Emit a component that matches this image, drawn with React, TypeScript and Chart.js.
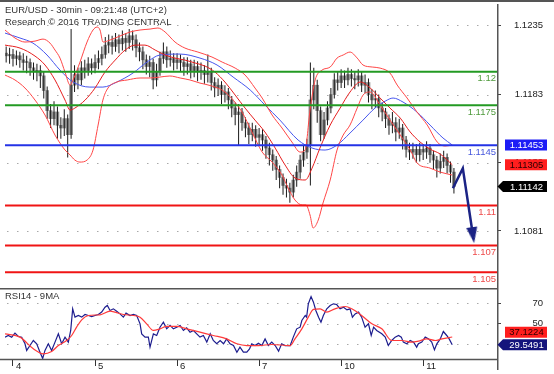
import React, { useEffect, useRef } from 'react';
import { Chart, registerables } from 'chart.js';
Chart.register(...registerables);

const FONT = '"Liberation Sans", Arial, Helvetica, sans-serif';

const titleLine1 = 'EUR/USD - 30min - 09:21:48 (UTC+2)';
const titleLine2 = 'Research © 2016 TRADING CENTRAL';
const rsiTitle = 'RSI14 - 9MA';

// hours from start of day "4" (weekend skipped)
const X_MIN = -2.34;
const X_MAX = 141.6;
const firstHour = -2;

const dayTickHours = [0, 24, 48, 72, 96, 120];
const dayLabels = ['4', '5', '6', '7', '10', '11'];

const priceTicks = [1.1081, 1.1132, 1.1183, 1.1235];
const PRICE_MIN = 1.10383;
const PRICE_MAX = 1.12515;
const rsiTicks = [30, 50, 70];
const RSI_MIN = 15.66;
const RSI_MAX = 83.95;

// hourly candles, t = -2 .. 129
const opens = [
  1.1214, 1.1212, 1.1213, 1.1210, 1.1212, 1.1209, 1.1207, 1.1207, 1.1203, 1.1200, 1.1201, 1.1197,
  1.1186, 1.1171, 1.1165, 1.1170, 1.1160, 1.1158, 1.1165, 1.1153, 1.1190, 1.1198, 1.1194, 1.1203,
  1.1201, 1.1206, 1.1203, 1.1207, 1.1210, 1.1213, 1.1220, 1.1222, 1.1219, 1.1224, 1.1221, 1.1225,
  1.1222, 1.1227, 1.1224, 1.1218, 1.1215, 1.1209, 1.1204, 1.1207, 1.1194, 1.1200, 1.1210, 1.1215,
  1.1209, 1.1210, 1.1207, 1.1209, 1.1207, 1.1204, 1.1206, 1.1201, 1.1204, 1.1200, 1.1201, 1.1198,
  1.1200, 1.1192, 1.1188, 1.1190, 1.1183, 1.1185, 1.1179, 1.1173, 1.1168, 1.1170, 1.1162, 1.1158,
  1.1153, 1.1157, 1.1151, 1.1153, 1.1149, 1.1143, 1.1138, 1.1134, 1.1127, 1.1121, 1.1115, 1.1113,
  1.1110, 1.1119, 1.1125, 1.1134, 1.1140, 1.1145, 1.1179, 1.1190, 1.1171, 1.1153, 1.1164, 1.1173,
  1.1183, 1.1194, 1.1192, 1.1197, 1.1194, 1.1198, 1.1195, 1.1194, 1.1197, 1.1190, 1.1192, 1.1183,
  1.1179, 1.1180, 1.1173, 1.1170, 1.1165, 1.1160, 1.1162, 1.1155, 1.1158, 1.1149, 1.1142, 1.1140,
  1.1142, 1.1138, 1.1142, 1.1140, 1.1143, 1.1138, 1.1134, 1.1128, 1.1133, 1.1136, 1.1130, 1.1125,
];
const highs = [
  1.1219, 1.1218, 1.1217, 1.1216, 1.1215, 1.1214, 1.1212, 1.1210, 1.1207, 1.1206, 1.1205, 1.1200,
  1.1189, 1.1176, 1.1178, 1.1174, 1.1166, 1.1172, 1.1168, 1.1232, 1.1205, 1.1203, 1.1208, 1.1209,
  1.1211, 1.1210, 1.1213, 1.1216, 1.1219, 1.1226, 1.1228, 1.1227, 1.1229, 1.1228, 1.1231, 1.1229,
  1.1232, 1.1231, 1.1228, 1.1222, 1.1219, 1.1213, 1.1212, 1.1210, 1.1206, 1.1215, 1.1222, 1.1219,
  1.1216, 1.1214, 1.1214, 1.1213, 1.1211, 1.1211, 1.1209, 1.1209, 1.1208, 1.1207, 1.1205, 1.1213,
  1.1203, 1.1196, 1.1195, 1.1193, 1.1190, 1.1188, 1.1182, 1.1177, 1.1176, 1.1173, 1.1166, 1.1162,
  1.1162, 1.1160, 1.1158, 1.1157, 1.1152, 1.1147, 1.1142, 1.1137, 1.1130, 1.1124, 1.1120, 1.1117,
  1.1123, 1.1130, 1.1138, 1.1145, 1.1150, 1.1207, 1.1203, 1.1194, 1.1174, 1.1170, 1.1178, 1.1188,
  1.1199, 1.1200, 1.1202, 1.1201, 1.1203, 1.1202, 1.1200, 1.1202, 1.1200, 1.1198, 1.1195, 1.1187,
  1.1186, 1.1183, 1.1177, 1.1173, 1.1168, 1.1170, 1.1166, 1.1165, 1.1161, 1.1152, 1.1147, 1.1147,
  1.1146, 1.1147, 1.1146, 1.1148, 1.1146, 1.1141, 1.1137, 1.1139, 1.1141, 1.1139, 1.1133, 1.1128,
];
const lows = [
  1.1207, 1.1206, 1.1204, 1.1205, 1.1203, 1.1201, 1.1199, 1.1197, 1.1194, 1.1193, 1.1188, 1.1180,
  1.1165, 1.1158, 1.1160, 1.1150, 1.1150, 1.1152, 1.1136, 1.1150, 1.1185, 1.1187, 1.1190, 1.1195,
  1.1197, 1.1198, 1.1199, 1.1202, 1.1205, 1.1210, 1.1214, 1.1213, 1.1215, 1.1214, 1.1216, 1.1215,
  1.1217, 1.1216, 1.1211, 1.1208, 1.1202, 1.1198, 1.1196, 1.1187, 1.1189, 1.1197, 1.1206, 1.1203,
  1.1204, 1.1201, 1.1202, 1.1200, 1.1197, 1.1198, 1.1195, 1.1196, 1.1193, 1.1194, 1.1191, 1.1192,
  1.1186, 1.1181, 1.1182, 1.1176, 1.1177, 1.1172, 1.1166, 1.1160, 1.1145, 1.1156, 1.1151, 1.1146,
  1.1148, 1.1144, 1.1145, 1.1141, 1.1135, 1.1130, 1.1126, 1.1119, 1.1113, 1.1108, 1.1106, 1.1102,
  1.1106, 1.1114, 1.1120, 1.1129, 1.1135, 1.1115, 1.1172, 1.1162, 1.1148, 1.1150, 1.1160, 1.1169,
  1.1180, 1.1186, 1.1188, 1.1188, 1.1190, 1.1189, 1.1187, 1.1189, 1.1185, 1.1184, 1.1177, 1.1172,
  1.1173, 1.1166, 1.1163, 1.1158, 1.1153, 1.1154, 1.1148, 1.1150, 1.1142, 1.1136, 1.1134, 1.1135,
  1.1132, 1.1133, 1.1134, 1.1135, 1.1132, 1.1127, 1.1121, 1.1124, 1.1128, 1.1124, 1.1117, 1.1109,
];
const closes = [
  1.1212, 1.1213, 1.1210, 1.1212, 1.1209, 1.1207, 1.1207, 1.1203, 1.1200, 1.1201, 1.1197, 1.1186,
  1.1171, 1.1165, 1.1170, 1.1160, 1.1158, 1.1165, 1.1153, 1.1190, 1.1198, 1.1194, 1.1203, 1.1201,
  1.1206, 1.1203, 1.1207, 1.1210, 1.1213, 1.1220, 1.1222, 1.1219, 1.1224, 1.1221, 1.1225, 1.1222,
  1.1227, 1.1224, 1.1218, 1.1215, 1.1209, 1.1204, 1.1207, 1.1194, 1.1200, 1.1210, 1.1215, 1.1209,
  1.1210, 1.1207, 1.1209, 1.1207, 1.1204, 1.1206, 1.1201, 1.1204, 1.1200, 1.1201, 1.1198, 1.1200,
  1.1192, 1.1188, 1.1190, 1.1183, 1.1185, 1.1179, 1.1173, 1.1168, 1.1170, 1.1162, 1.1158, 1.1153,
  1.1157, 1.1151, 1.1153, 1.1149, 1.1143, 1.1138, 1.1134, 1.1127, 1.1121, 1.1115, 1.1113, 1.1110,
  1.1119, 1.1125, 1.1134, 1.1140, 1.1145, 1.1179, 1.1190, 1.1171, 1.1153, 1.1164, 1.1173, 1.1183,
  1.1194, 1.1192, 1.1197, 1.1194, 1.1198, 1.1195, 1.1194, 1.1197, 1.1190, 1.1192, 1.1183, 1.1179,
  1.1180, 1.1173, 1.1170, 1.1165, 1.1160, 1.1162, 1.1155, 1.1158, 1.1149, 1.1142, 1.1140, 1.1142,
  1.1138, 1.1142, 1.1140, 1.1143, 1.1138, 1.1134, 1.1128, 1.1133, 1.1136, 1.1130, 1.1125, 1.11142,
];

// Bollinger bands and moving average: [hour, price]
const upperBand = [
  [-2.34, 1.12313], [0.59, 1.12253], [3.51, 1.12223], [6.44, 1.1223], [8.78, 1.12245], [10.83, 1.12215],
  [12.29, 1.12163], [13.75, 1.12103], [15.22, 1.11998], [16.7, 1.11901], [17.56, 1.11939], [19.6, 1.12073],
  [21.66, 1.12223], [23.41, 1.12313], [24.58, 1.12335], [25.46, 1.12313], [26.34, 1.12223], [28.4, 1.12238],
  [31.3, 1.12268], [34.24, 1.12298], [37.17, 1.12313], [40.1, 1.1232], [42.4, 1.12328], [44.5, 1.12298],
  [47.4, 1.12223], [50.3, 1.12178], [54.1, 1.12148], [58.2, 1.12111], [61.2, 1.12073], [65.0, 1.12028],
  [67.9, 1.11976], [70.8, 1.11879], [72.9, 1.11804], [75.8, 1.11677], [78.7, 1.1158], [81.6, 1.11475],
  [84.0, 1.114], [85.45, 1.11415], [86.9, 1.11714], [88.4, 1.11939], [90.4, 1.12013], [92.8, 1.12036],
  [94.8, 1.12103], [96.6, 1.12126], [98.6, 1.12148], [100.7, 1.12103], [102.4, 1.12051], [105.1, 1.12036],
  [107.4, 1.12028], [110.3, 1.11991], [112.4, 1.11901], [115.3, 1.11804], [118.2, 1.11699], [121.2, 1.11602],
  [124.1, 1.11475], [126.4, 1.11445], [128.5, 1.11452],
];
const middleBand = [
  [-2.34, 1.122], [2.05, 1.12178], [6.44, 1.12118], [9.37, 1.12051], [12.29, 1.11939], [15.22, 1.11789],
  [16.7, 1.11714], [18.1, 1.11729], [21.1, 1.11789], [24.0, 1.11879], [26.9, 1.11998], [29.9, 1.12088],
  [32.8, 1.12163], [35.7, 1.122], [38.6, 1.122], [41.6, 1.12163], [44.5, 1.12126], [47.4, 1.12103],
  [50.3, 1.12088], [53.3, 1.12066], [56.2, 1.12043], [59.1, 1.11998], [62.0, 1.11924], [65.0, 1.11826],
  [67.9, 1.11729], [70.8, 1.11639], [73.7, 1.1155], [76.7, 1.1143], [79.6, 1.11303], [82.5, 1.11206],
  [85.5, 1.11191], [87.5, 1.1128], [89.8, 1.1143], [92.8, 1.11602], [95.7, 1.11729], [98.6, 1.11849],
  [101.6, 1.11924], [104.5, 1.11879], [107.4, 1.11804], [110.3, 1.11729], [113.3, 1.11654], [116.2, 1.1155],
  [119.1, 1.11475], [122.0, 1.11422], [125.0, 1.11385], [128.5, 1.11305],
];
const lowerBand = [
  [-2.34, 1.11976], [0.59, 1.11939], [3.51, 1.11879], [6.44, 1.11789], [9.37, 1.11677], [12.29, 1.11527],
  [13.75, 1.11467], [15.22, 1.11415], [16.7, 1.11378], [18.1, 1.1134], [19.6, 1.11325], [21.66, 1.1134],
  [23.41, 1.11415], [24.9, 1.11602], [26.3, 1.11789], [27.8, 1.11879], [30.4, 1.11924], [33.4, 1.11939],
  [37.17, 1.11954], [40.1, 1.11954], [43.0, 1.11961], [45.9, 1.11969], [48.9, 1.11954], [51.8, 1.11939],
  [54.7, 1.11916], [58.2, 1.11894], [62.0, 1.11849], [67.0, 1.11699], [69.9, 1.1155], [72.9, 1.114],
  [75.8, 1.11325], [78.7, 1.11228], [80.5, 1.11131], [82.5, 1.11041], [84.6, 1.11004], [85.7, 1.11004],
  [86.9, 1.10929], [87.8, 1.10832], [89.3, 1.10891], [90.7, 1.11019], [92.8, 1.11191], [94.8, 1.11415],
  [96.6, 1.11527], [98.6, 1.11602], [100.7, 1.11729], [102.4, 1.11826], [104.5, 1.11849], [107.4, 1.11752],
  [110.3, 1.11639], [113.3, 1.11527], [116.2, 1.11415], [118.2, 1.11318], [122.0, 1.1128], [125.0, 1.1125],
  [128.5, 1.11228],
];
const blueAverage = [
  [-2.34, 1.1229], [2.05, 1.12253], [5.85, 1.12215], [9.95, 1.12126], [13.75, 1.12013], [17.56, 1.11924],
  [22.5, 1.11886], [26.3, 1.11886], [30.4, 1.11924], [35.1, 1.11991], [39.2, 1.12073], [43.0, 1.12126],
  [48.9, 1.12133], [54.7, 1.12103], [59.7, 1.12051], [64.4, 1.11961], [69.4, 1.11864], [73.7, 1.11752],
  [78.1, 1.11639], [83.4, 1.1149], [87.5, 1.1143], [91.3, 1.11415], [94.8, 1.11452], [98.6, 1.11542],
  [102.4, 1.11639], [105.9, 1.11729], [108.9, 1.11781], [111.2, 1.11804], [114.1, 1.11774], [118.2, 1.11699],
  [122.0, 1.11602], [125.8, 1.11505], [128.5, 1.11453],
];
const forecastArrow = [[128.7, 1.11129], [131.6, 1.11278], [134.56, 1.10778]];

const levelValues = [1.12, 1.1175, 1.1145, 1.11, 1.107, 1.105];
const levelLabels = ['1.12', '1.1175', '1.1145', '1.11', '1.107', '1.105'];
const levelColors = ['#239a23', '#239a23', '#2433e6', '#f01414', '#f01414', '#f01414'];
const levelTextColors = ['#4f9a3c', '#4f9a3c', '#4657dc', '#ee4a4a', '#ee4a4a', '#ee4a4a'];

// RSI(14) and its 9-period average: [hour, value]
const rsiLine = [
  [-2.34, 36.9], [-1.37, 38.6], [-0.39, 36.9], [0.58, 40.9], [1.56, 37.6], [2.54, 36.9], [3.51, 30.5], [4.0, 24.0],
  [4.97, 28.8], [5.95, 33.7], [6.93, 30.5], [7.9, 22.3], [8.68, 16.2], [9.36, 24.0], [10.34, 30.5], [11.3, 24.0],
  [12.29, 32.1], [13.27, 40.2], [14.24, 30.5], [15.22, 36.9], [16.19, 32.1], [16.88, 43.5], [17.46, 64.6], [18.14, 56.5],
  [19.12, 58.1], [20.1, 56.5], [21.07, 59.1], [22.05, 58.1], [23.02, 57.1], [24.0, 58.1], [24.97, 59.1], [25.95, 61.4],
  [26.92, 66.2], [27.6, 67.9], [28.4, 63.0], [29.36, 64.6], [30.34, 62.3], [31.3, 59.7], [32.29, 56.5], [33.07, 60.4],
  [34.24, 58.1], [35.2, 59.1], [36.19, 58.1], [37.17, 50.0], [37.65, 40.2], [38.63, 37.0], [39.6, 37.0], [40.09, 27.2],
  [41.07, 40.2], [42.04, 38.6], [43.0, 46.7], [44.0, 51.6], [44.97, 45.1], [45.95, 48.4], [46.92, 45.1], [47.9, 46.7],
  [48.9, 48.4], [49.85, 43.5], [50.8, 46.1], [51.8, 41.8], [52.8, 43.5], [53.75, 40.2], [54.7, 37.0], [55.7, 38.6],
  [56.7, 32.1], [57.7, 40.2], [58.6, 33.7], [59.6, 30.5], [60.6, 33.7], [61.6, 30.5], [62.5, 35.3], [63.5, 30.5],
  [64.5, 28.8], [65.5, 22.3], [66.4, 27.2], [67.4, 22.3], [68.4, 22.3], [69.2, 25.6], [69.85, 30.5], [70.8, 28.8],
  [71.8, 31.1], [72.8, 28.8], [73.75, 35.3], [74.7, 28.8], [75.7, 32.1], [76.7, 28.8], [77.7, 23.3], [78.6, 30.5],
  [79.6, 28.8], [81.1, 28.8], [82.0, 37.0], [83.0, 45.1], [84.0, 46.7], [84.5, 53.2], [85.5, 58.1], [85.9, 56.5],
  [86.4, 69.5], [87.2, 76.6], [87.9, 71.1], [88.6, 63.0], [89.4, 56.5], [90.1, 51.6], [90.8, 58.1], [91.8, 64.6],
  [92.8, 67.9], [93.75, 69.5], [94.7, 68.8], [95.7, 64.6], [96.7, 66.2], [97.7, 63.6], [98.6, 64.6], [99.3, 56.5],
  [100.1, 59.7], [101.1, 61.4], [102.0, 56.5], [103.0, 46.7], [104.0, 50.0], [104.8, 38.6], [105.5, 46.7], [106.4, 43.5],
  [107.9, 40.2], [108.9, 37.0], [109.8, 28.8], [110.8, 33.7], [111.8, 37.0], [112.8, 38.6], [113.6, 37.0], [114.2, 32.1],
  [115.2, 30.5], [116.2, 33.7], [117.2, 32.1], [118.1, 27.2], [118.6, 30.5], [119.6, 32.1], [120.6, 37.0], [121.6, 35.3],
  [122.5, 32.1], [123.3, 24.6], [124.0, 30.5], [125.0, 35.3], [125.9, 42.5], [126.9, 38.6], [127.6, 35.3], [128.5, 29.5491],
];
const rsiAverage = [
  [-2.34, 40.2], [2.05, 37.0], [5.95, 25.6], [8.88, 20.7], [11.3, 23.0], [13.27, 28.8], [15.7, 33.7], [17.17, 38.6],
  [18.6, 46.7], [20.1, 53.9], [22.05, 58.1], [25.46, 58.8], [28.4, 62.3], [29.85, 61.4], [32.3, 59.1], [35.2, 58.1],
  [37.17, 56.5], [39.1, 50.0], [41.07, 43.5], [43.0, 45.1], [44.97, 47.4], [47.9, 47.4], [50.8, 45.1], [54.7, 41.8],
  [58.6, 38.6], [62.5, 35.3], [65.5, 30.5], [68.4, 28.8], [71.8, 28.8], [75.7, 29.8], [81.1, 28.8], [82.5, 35.3],
  [84.5, 45.1], [86.4, 56.5], [87.9, 64.0], [89.85, 64.6], [91.8, 61.4], [94.2, 64.6], [97.2, 66.9], [99.1, 64.6],
  [102.0, 58.1], [105.0, 50.0], [107.9, 45.1], [110.8, 33.7], [113.75, 33.7], [116.7, 32.1], [118.6, 33.1], [121.1, 35.3],
  [123.5, 33.7], [125.5, 35.3], [128.5, 37.1224],
];

const last = (arr: number[][]) => arr[arr.length - 1][1];

function drawBox(ctx: CanvasRenderingContext2D, cy: number, text: string, bg: string, fg: string, pointer: boolean) {
  const left = pointer ? 503 : 505;
  const right = 547;
  const h = 11;
  ctx.save();
  ctx.fillStyle = bg;
  ctx.beginPath();
  if (pointer) {
    ctx.moveTo(497.5, cy);
    ctx.lineTo(left, cy - h / 2);
  } else {
    ctx.moveTo(left, cy - h / 2);
  }
  ctx.lineTo(right, cy - h / 2);
  ctx.lineTo(right, cy + h / 2);
  ctx.lineTo(left, cy + h / 2);
  ctx.closePath();
  ctx.fill();
  ctx.fillStyle = fg;
  ctx.font = `9.5px ${FONT}`;
  ctx.textAlign = 'center';
  ctx.textBaseline = 'middle';
  ctx.fillText(text, 526.5, cy + 0.5);
  ctx.restore();
}

function drawBoxes(ctx: CanvasRenderingContext2D, boxes: any[]) {
  const sorted = [...boxes].sort((a, b) => b.y - a.y);
  let prev = Infinity;
  for (const b of sorted) {
    b.y = Math.min(b.y, prev - 12.5);
    prev = b.y;
  }
  for (const b of boxes) drawBox(ctx, b.y, b.text, b.bg, b.fg, b.pointer);
}

function drawDottedGrid(chart: any, scaleId: string, values: number[]) {
  const { ctx, chartArea } = chart;
  const s = chart.scales[scaleId];
  ctx.save();
  ctx.strokeStyle = '#a9a9a9';
  ctx.lineWidth = 1;
  ctx.setLineDash([1.5, 8.5]);
  for (const v of values) {
    const y = Math.round(s.getPixelForValue(v)) + 0.5;
    ctx.beginPath();
    ctx.moveTo(chartArea.left + 2, y);
    ctx.lineTo(chartArea.right, y);
    ctx.stroke();
  }
  ctx.restore();
}

function line(label: string, pts: number[][], color: string, width: number, order: number, extra: any = {}) {
  return {
    type: 'line',
    label,
    data: pts.map(([x, y]) => ({ x, y })),
    borderColor: color,
    borderWidth: width,
    pointRadius: 0,
    fill: false,
    cubicInterpolationMode: 'monotone',
    order,
    ...extra,
  };
}

const fixRightAxis = (s: any) => {
  s.width = 46;
  s.paddingTop = 0;
  s.paddingBottom = 0;
};

function mainConfig(head: HTMLCanvasElement): any {
  const mainDeco = {
    id: 'mainDeco',
    beforeDatasetsDraw(chart: any) {
      drawDottedGrid(chart, 'y', priceTicks);
    },
    afterDraw(chart: any) {
      const { ctx, chartArea } = chart;
      const ys = chart.scales.y;
      ctx.save();
      ctx.strokeStyle = '#555';
      ctx.lineWidth = 2;
      ctx.beginPath();
      ctx.moveTo(0, 1);
      ctx.lineTo(554, 1);
      ctx.stroke();
      ctx.lineWidth = 1.5;
      ctx.beginPath();
      ctx.moveTo(chartArea.right + 0.75, 4);
      ctx.lineTo(chartArea.right + 0.75, 288);
      ctx.stroke();
      ctx.fillStyle = '#333';
      ctx.font = `9.5px ${FONT}`;
      ctx.textAlign = 'left';
      ctx.textBaseline = 'middle';
      ctx.fillText(titleLine1, 5, 10.5);
      ctx.fillText(titleLine2, 5, 22);
      ctx.textAlign = 'right';
      levelValues.forEach((v, i) => {
        ctx.fillStyle = levelTextColors[i];
        ctx.fillText(levelLabels[i], chartArea.right - 1, ys.getPixelForValue(v) + 7);
      });
      ctx.restore();
      drawBoxes(ctx, [
        { y: ys.getPixelForValue(last(blueAverage)), text: last(blueAverage).toFixed(5), bg: '#1c1cf6', fg: '#ffffff', pointer: false },
        { y: ys.getPixelForValue(last(middleBand)), text: last(middleBand).toFixed(5), bg: '#ff1e1e', fg: '#2a0000', pointer: false },
        { y: ys.getPixelForValue(closes[closes.length - 1]), text: closes[closes.length - 1].toFixed(5), bg: '#000000', fg: '#ffffff', pointer: true },
      ]);
    },
  };

  const arrowLast = forecastArrow.length - 1;
  const datasets: any[] = [
    line('forecast', forecastArrow, '#1b2385', 2.5, 0, {
      cubicInterpolationMode: 'default',
      tension: 0,
      pointRadius: (c: any) => (c.dataIndex === arrowLast ? 6 : 0),
      pointStyle: head,
      pointRotation: -8.6,
    }),
    ...levelValues.map((v, i) =>
      line(levelLabels[i], [[X_MIN, v], [X_MAX, v]], levelColors[i], 2, 1, { cubicInterpolationMode: 'default', tension: 0 })
    ),
    line('upper', upperBand, '#ff4646', 1, 2),
    line('middle', middleBand, '#e61e1e', 1, 2),
    line('lower', lowerBand, '#ff4646', 1, 2),
    line('average', blueAverage, '#4656ee', 1, 2),
    {
      type: 'bar',
      label: 'range',
      data: highs.map((h, i) => ({ x: firstHour + i, y: [lows[i], h] })),
      backgroundColor: '#1a1a1a',
      barThickness: 1,
      inflateAmount: 0,
      grouped: false,
      minBarLength: 1,
      order: 3,
    },
    {
      type: 'bar',
      label: 'body',
      data: opens.map((o, i) => ({ x: firstHour + i, y: [Math.min(o, closes[i]), Math.max(o, closes[i])] })),
      backgroundColor: '#8c8c8c',
      barThickness: 3,
      grouped: false,
      minBarLength: 1,
      order: 4,
    },
  ];

  return {
    type: 'line',
    data: { datasets },
    options: {
      responsive: false,
      maintainAspectRatio: false,
      animation: false,
      devicePixelRatio: 1,
      events: [],
      layout: { autoPadding: false, padding: { left: 5, right: 11, top: 3, bottom: 0 } },
      plugins: { legend: { display: false }, tooltip: { enabled: false }, title: { display: false } },
      scales: {
        x: { type: 'linear', display: false, min: X_MIN, max: X_MAX, offset: false },
        y: {
          type: 'linear',
          position: 'right',
          min: PRICE_MIN,
          max: PRICE_MAX,
          bounds: 'data',
          afterBuildTicks: (s: any) => {
            s.ticks = priceTicks.map((v) => ({ value: v }));
          },
          afterFit: fixRightAxis,
          grid: { drawOnChartArea: false, drawTicks: true, tickLength: 4, tickColor: '#444', tickWidth: 1 },
          border: { display: false },
          ticks: {
            crossAlign: 'far',
            padding: 13,
            color: '#222',
            font: { family: FONT, size: 9.5 },
            callback: (v: any) => Number(v).toFixed(4),
          },
        },
      },
    },
    plugins: [mainDeco],
  };
}

function rsiConfig(): any {
  const rsiDeco = {
    id: 'rsiDeco',
    beforeDatasetsDraw(chart: any) {
      drawDottedGrid(chart, 'y', rsiTicks);
    },
    afterDraw(chart: any) {
      const { ctx, chartArea } = chart;
      const ys = chart.scales.y;
      ctx.save();
      ctx.strokeStyle = '#555';
      ctx.lineWidth = 1.5;
      ctx.beginPath();
      ctx.moveTo(0, 0.75);
      ctx.lineTo(chartArea.right + 1, 0.75);
      ctx.moveTo(0, chartArea.bottom + 0.5);
      ctx.lineTo(chartArea.right + 1, chartArea.bottom + 0.5);
      ctx.moveTo(chartArea.right + 0.75, 0);
      ctx.lineTo(chartArea.right + 0.75, 82);
      ctx.stroke();
      ctx.fillStyle = '#333';
      ctx.font = `9.5px ${FONT}`;
      ctx.textAlign = 'left';
      ctx.textBaseline = 'middle';
      ctx.fillText(rsiTitle, 5, 8.5);
      ctx.restore();
      drawBoxes(ctx, [
        { y: ys.getPixelForValue(last(rsiAverage)), text: last(rsiAverage).toFixed(4), bg: '#ff1e1e', fg: '#2a0000', pointer: false },
        { y: ys.getPixelForValue(last(rsiLine)), text: last(rsiLine).toFixed(4), bg: '#14147c', fg: '#ffffff', pointer: true },
      ]);
    },
  };

  return {
    type: 'line',
    data: {
      datasets: [
        line('RSI 9MA', rsiAverage, '#ff3a3a', 1.2, 0),
        line('RSI14', rsiLine, '#1c1c8e', 1.2, 1, { cubicInterpolationMode: 'default', tension: 0 }),
      ],
    },
    options: {
      responsive: false,
      maintainAspectRatio: false,
      animation: false,
      devicePixelRatio: 1,
      events: [],
      layout: { autoPadding: false, padding: { left: 5, right: 11, top: 1, bottom: 0 } },
      plugins: { legend: { display: false }, tooltip: { enabled: false }, title: { display: false } },
      scales: {
        x: {
          type: 'linear',
          min: X_MIN,
          max: X_MAX,
          offset: false,
          afterBuildTicks: (s: any) => {
            s.ticks = dayTickHours.map((v) => ({ value: v }));
          },
          afterFit: (s: any) => {
            s.height = 15;
            s.paddingLeft = 0;
            s.paddingRight = 0;
          },
          grid: { drawOnChartArea: false, drawTicks: true, tickLength: 7, tickColor: '#333', tickWidth: 1 },
          border: { display: false },
          ticks: {
            autoSkip: false,
            maxRotation: 0,
            minRotation: 0,
            align: 'start',
            labelOffset: 3,
            padding: -5,
            color: '#222',
            font: { family: FONT, size: 9.5 },
            callback: (_v: any, i: number) => dayLabels[i],
          },
        },
        y: {
          type: 'linear',
          position: 'right',
          min: RSI_MIN,
          max: RSI_MAX,
          bounds: 'data',
          afterBuildTicks: (s: any) => {
            s.ticks = rsiTicks.map((v) => ({ value: v }));
          },
          afterFit: fixRightAxis,
          grid: { drawOnChartArea: false, drawTicks: true, tickLength: 4, tickColor: '#444', tickWidth: 1 },
          border: { display: false },
          ticks: {
            crossAlign: 'far',
            padding: 31,
            color: '#222',
            font: { family: FONT, size: 9.5 },
            callback: (v: any) => String(v),
          },
        },
      },
    },
    plugins: [rsiDeco],
  };
}

export default function App() {
  const mainRef = useRef<HTMLCanvasElement>(null);
  const rsiRef = useRef<HTMLCanvasElement>(null);

  useEffect(() => {
    const head = document.createElement('canvas');
    head.width = 11;
    head.height = 16;
    const hc = head.getContext('2d')!;
    hc.fillStyle = '#1b2385';
    hc.beginPath();
    hc.moveTo(0, 0);
    hc.lineTo(11, 0);
    hc.lineTo(5.5, 16);
    hc.closePath();
    hc.fill();

    const c1 = new Chart(mainRef.current!, mainConfig(head));
    const c2 = new Chart(rsiRef.current!, rsiConfig());
    return () => {
      c1.destroy();
      c2.destroy();
    };
  }, []);

  return (
    <div style={{ position: 'fixed', left: 0, top: 0, width: 554, height: 374, background: '#ffffff', overflow: 'hidden' }}>
      <canvas ref={mainRef} width={554} height={288} style={{ position: 'absolute', left: 0, top: 0, width: 554, height: 288 }} />
      <canvas ref={rsiRef} width={554} height={86} style={{ position: 'absolute', left: 0, top: 288, width: 554, height: 86 }} />
    </div>
  );
}
